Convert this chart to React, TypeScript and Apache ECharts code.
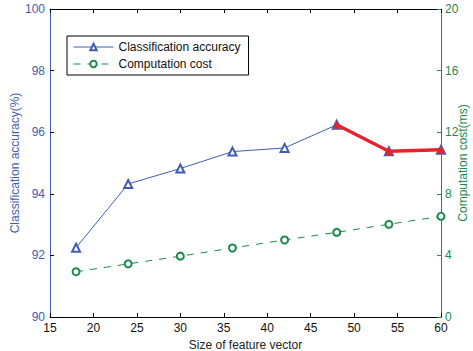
import React, { useEffect, useRef } from "react";
import * as echarts from "echarts";

const featureSizes = [18, 24, 30, 36, 42, 48, 54, 60];
const accuracy = [92.25, 94.32, 94.82, 95.37, 95.49, 96.24, 95.38, 95.43];
const cost = [2.94, 3.45, 3.95, 4.48, 5.0, 5.5, 6.02, 6.54];
const highlightStart = 5;

const BLUE = "#3f5db5";
const GREEN = "#1b8a4c";
const RED = "#e8232b";
const FONT = "Liberation Sans, Arial, sans-serif";

export default function App() {
  const ref = useRef<HTMLDivElement>(null);
  useEffect(() => {
    if (!ref.current) return;
    const chart = echarts.init(ref.current, undefined, { renderer: "svg" });
    const accData = featureSizes.map((x, i) => [x, accuracy[i]]);
    const costData = featureSizes.map((x, i) => [x, cost[i]]);
    const redData = accData.slice(highlightStart);
    chart.setOption({
      animation: false,
      backgroundColor: "#fff",
      textStyle: { fontFamily: FONT },
      grid: {
        left: 50,
        right: 32,
        top: 9,
        bottom: 34,
        containLabel: false,
        outerBoundsMode: "none",
      },
      graphic: [
        {
          type: "text",
          x: 15,
          y: 163,
          rotation: Math.PI / 2,
          style: {
            text: "Classification accuracy(%)",
            fill: BLUE,
            font: "12px Liberation Sans, Arial, sans-serif",
            textAlign: "center",
            textVerticalAlign: "middle",
          },
        },
        {
          type: "text",
          x: 463,
          y: 163,
          rotation: Math.PI / 2,
          style: {
            text: "Computation cost(ms)",
            fill: GREEN,
            font: "12px Liberation Sans, Arial, sans-serif",
            textAlign: "center",
            textVerticalAlign: "middle",
          },
        },
      ],
      legend: {
        orient: "vertical",
        left: 67,
        top: 36,
        padding: [5, 8, 5, 6],
        itemGap: 5,
        itemWidth: 40,
        itemHeight: 8,
        borderColor: "#000",
        borderWidth: 1,
        backgroundColor: "#fff",
        lineStyle: { width: 1 },
        itemStyle: { borderWidth: 1 },
        textStyle: { color: "#111", fontSize: 12, fontFamily: FONT },
        data: ["Classification accuracy", "Computation cost"],
      },
      xAxis: [
        {
          type: "value",
          min: 15,
          max: 60,
          interval: 5,
          name: "Size of feature vector",
          nameLocation: "middle",
          nameGap: 20,
          nameTextStyle: { color: "#222", fontSize: 12, fontFamily: FONT },
          axisLine: { lineStyle: { color: "#000", width: 1 } },
          axisTick: { inside: true, length: 4, lineStyle: { color: "#000" } },
          axisLabel: { color: "#111", fontSize: 12, margin: 5, fontFamily: FONT },
          splitLine: { show: false },
        },
        {
          type: "value",
          position: "top",
          min: 15,
          max: 60,
          interval: 5,
          axisLine: { lineStyle: { color: "#000", width: 1 } },
          axisTick: { inside: true, length: 4, lineStyle: { color: "#000" } },
          axisLabel: { show: false },
          splitLine: { show: false },
        },
      ],
      yAxis: [
        {
          type: "value",
          min: 90,
          max: 100,
          interval: 2,
          axisLine: { show: true, lineStyle: { color: BLUE, width: 1 } },
          axisTick: { show: true, inside: true, length: 4, lineStyle: { color: "#000" } },
          axisLabel: { color: BLUE, fontSize: 12, margin: 5, fontFamily: FONT },
          splitLine: { show: false },
        },
        {
          type: "value",
          min: 0,
          max: 20,
          interval: 4,
          position: "right",
          axisLine: { show: true, lineStyle: { color: GREEN, width: 1 } },
          axisTick: { show: true, inside: true, length: 4, lineStyle: { color: GREEN } },
          axisLabel: { color: GREEN, fontSize: 12, margin: 4, fontFamily: FONT },
          splitLine: { show: false },
        },
      ],
      series: [
        {
          name: "Classification accuracy",
          type: "line",
          xAxisIndex: 0,
          yAxisIndex: 0,
          data: accData,
          symbol: "emptyTriangle",
          symbolSize: 8,
          lineStyle: { color: BLUE, width: 1 },
          itemStyle: { color: BLUE, borderColor: BLUE, borderWidth: 1 },
          z: 3,
        },
        {
          name: "Computation cost",
          type: "line",
          xAxisIndex: 0,
          yAxisIndex: 1,
          data: costData,
          symbol: "emptyCircle",
          symbolSize: 7,
          lineStyle: { color: GREEN, width: 1, type: [7, 7] },
          itemStyle: { color: GREEN, borderColor: GREEN, borderWidth: 1 },
          z: 2,
        },
        {
          name: "highlight",
          type: "line",
          xAxisIndex: 0,
          yAxisIndex: 0,
          data: redData,
          symbol: "triangle",
          symbolSize: 8,
          lineStyle: { color: RED, width: 3.5 },
          itemStyle: { color: RED },
          z: 4,
        },
      ],
    });
    return () => chart.dispose();
  }, []);
  return (
    <div
      ref={ref}
      style={{ position: "fixed", left: 0, top: 0, width: 473, height: 351 }}
    />
  );
}
